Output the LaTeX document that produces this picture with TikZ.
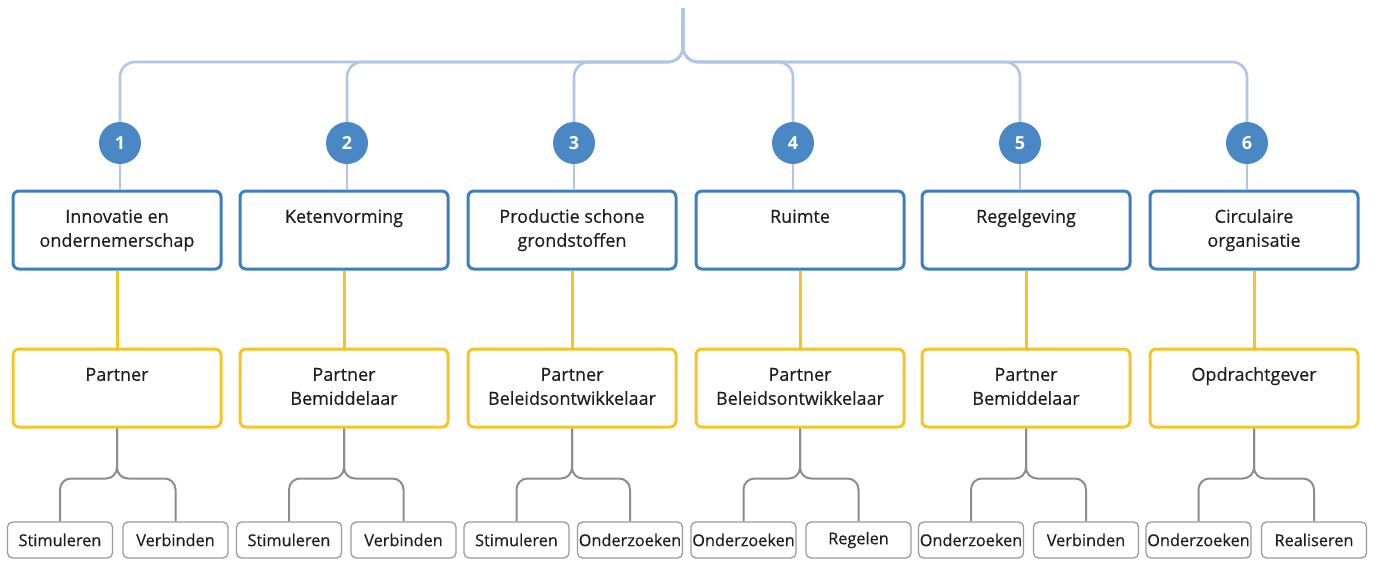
\documentclass[tikz,border=0pt]{standalone}
\usepackage{fontspec}
\setmainfont{Open Sans}
\newfontfamily\labfont[FakeBold=0.35]{Open Sans}
\definecolor{boxblue}{HTML}{3D7EC3}
\definecolor{circblue}{HTML}{4A87C5}
\definecolor{lineblue}{HTML}{AFC5E9}
\definecolor{boxyellow}{HTML}{F5C526}
\definecolor{linegray}{HTML}{8C8C8C}
\definecolor{leafgray}{HTML}{9A9A9A}
\definecolor{txt}{HTML}{1E1E1E}
\newcommand{\boxtext}[1]{\begin{minipage}[c][78pt][t]{204pt}\centering\labfont\fontsize{18}{24}\selectfont\vspace*{15pt}\strut #1\end{minipage}}
\tikzset{
  bluebox/.style={draw=boxblue, line width=3pt, rounded corners=6pt, fill=white, inner sep=0pt, minimum width=208pt, minimum height=78pt, text=txt},
  yellowbox/.style={draw=boxyellow, line width=3pt, rounded corners=6pt, fill=white, inner sep=0pt, minimum width=208pt, minimum height=78pt, text=txt},
  leaf/.style={draw=leafgray, line width=1.3pt, rounded corners=5pt, fill=white, inner sep=0pt, minimum width=105pt, minimum height=36pt, text=txt, font=\labfont\fontsize{16.3}{18}\selectfont},
  numcirc/.style={circle, fill=circblue, inner sep=0pt, minimum size=42pt, text=white, font=\fontsize{18}{18}\selectfont\bfseries},
  bline/.style={draw=lineblue, line width=2.6pt, rounded corners=15pt},
  yline/.style={draw=boxyellow, line width=3pt},
  gline/.style={draw=linegray, line width=2pt, rounded corners=11pt}
}
\begin{document}
\begin{tikzpicture}[x=1pt, y=-1pt]
\useasboundingbox (0,0) rectangle (1378,560);
\coordinate (top) at (683,8);
% numbered circles
\foreach \i/\x in {1/120,2/347,3/574,4/793,5/1020,6/1247}{
  \node[numcirc] (n\i) at (\x,143) {\i};
}
% blue boxes
\node[bluebox] (b1) at (117,230) {\boxtext{Innovatie en\\ondernemerschap}};
\node[bluebox] (b2) at (344,230) {\boxtext{Ketenvorming}};
\node[bluebox] (b3) at (572,230) {\boxtext{Productie schone\\grondstoffen}};
\node[bluebox] (b4) at (800,230) {\boxtext{Ruimte}};
\node[bluebox] (b5) at (1026,230) {\boxtext{Regelgeving}};
\node[bluebox] (b6) at (1254,230) {\boxtext{Circulaire\\organisatie}};
% yellow boxes
\node[yellowbox] (y1) at (117,388) {\boxtext{Partner}};
\node[yellowbox] (y2) at (344,388) {\boxtext{Partner\\Bemiddelaar}};
\node[yellowbox] (y3) at (572,388) {\boxtext{Partner\\Beleidsontwikkelaar}};
\node[yellowbox] (y4) at (800,388) {\boxtext{Partner\\Beleidsontwikkelaar}};
\node[yellowbox] (y5) at (1026,388) {\boxtext{Partner\\Bemiddelaar}};
\node[yellowbox] (y6) at (1254,388) {\boxtext{Opdrachtgever}};
% leaves
\node[leaf] (l1a) at (60,540) {Stimuleren};
\node[leaf] (l1b) at (175.5,540) {Verbinden};
\node[leaf] (l2a) at (289,540) {Stimuleren};
\node[leaf] (l2b) at (403.5,540) {Verbinden};
\node[leaf] (l3a) at (516.5,540) {Stimuleren};
\node[leaf] (l3b) at (630,540) {Onderzoeken};
\node[leaf] (l4a) at (743.5,540) {Onderzoeken};
\node[leaf] (l4b) at (858.5,540) {Regelen};
\node[leaf] (l5a) at (971,540) {Onderzoeken};
\node[leaf] (l5b) at (1086,540) {Verbinden};
\node[leaf] (l6a) at (1198.5,540) {Onderzoeken};
\node[leaf] (l6b) at (1314,540) {Realiseren};
% connectors
\foreach \i in {1,...,6}{
  \draw[bline] (top) -- (683,62) -| (n\i.north);
  \draw[draw=lineblue, line width=2.6pt] (n\i.south) -- (n\i.south |- b\i.north);
  \draw[yline] (b\i.south) -- (y\i.north);
  \draw[gline] (y\i.south) -- ++(0,50) -| (l\i a.north);
  \draw[gline] (y\i.south) -- ++(0,50) -| (l\i b.north);
}
\end{tikzpicture}
\end{document}
